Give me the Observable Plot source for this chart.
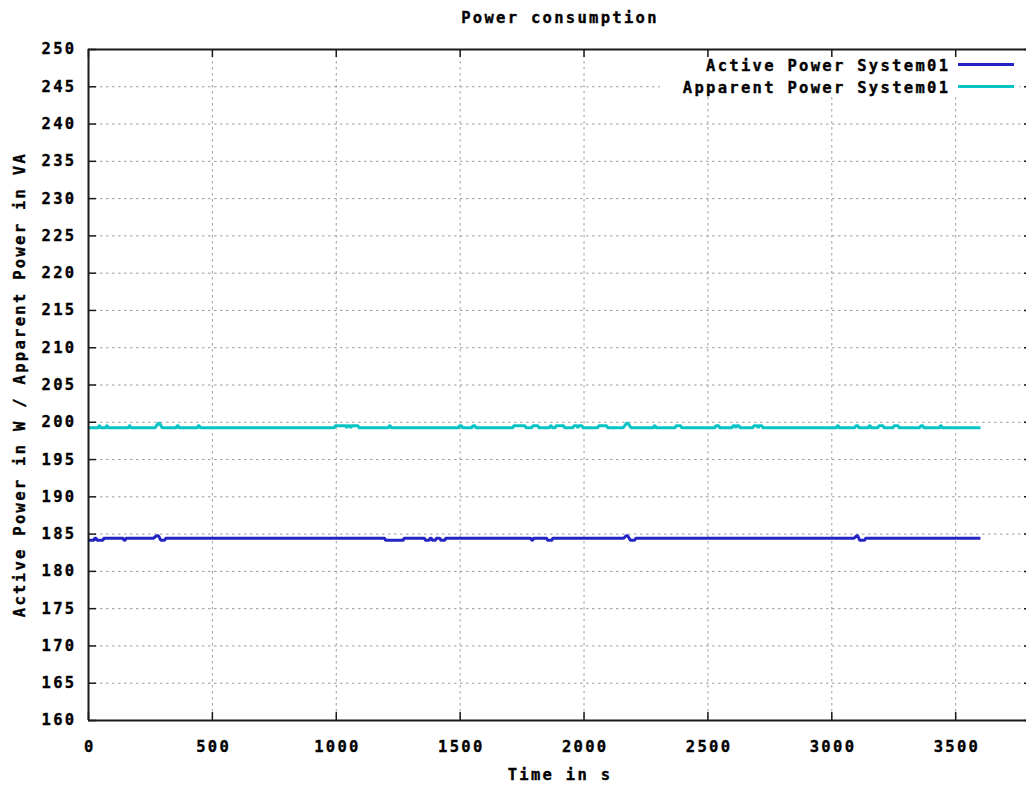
<!DOCTYPE html>
<html>
<head>
<meta charset="utf-8">
<script src="https://cdn.jsdelivr.net/npm/d3@7"></script>
<script src="https://cdn.jsdelivr.net/npm/@observablehq/plot@0.6"></script>
<style>
  html, body { margin: 0; padding: 0; background: #fff; overflow: hidden; }
  #chart svg text { stroke: #000; stroke-width: 0.35px; paint-order: stroke; }
</style>
</head>
<body>
<div id="chart"></div>
<script>
// ---- data ----
const titleText = "Power consumption";
const xLabel = "Time in s";
const yLabel = "Active Power in W / Apparent Power in VA";
const seriesNames = ["Active Power System01", "Apparent Power System01"];
const seriesColors = ["#2424c4", "#08c4c4"];
const xTicks = [0, 500, 1000, 1500, 2000, 2500, 3000, 3500];
const yTicks = [160, 165, 170, 175, 180, 185, 190, 195, 200, 205, 210, 215, 220, 225, 230, 235, 240, 245, 250];
const xDomain = [0, 3810];
const yDomain = [160, 250];

// [time s, power W]
const active = [
  [0,184.17],[22,184.17],[25,184.45],[31,184.45],[34,184.17],[58,184.17],[62,184.45],
  [140,184.45],[143,184.17],[148,184.17],[151,184.45],
  [262,184.45],[275,184.78],[282,184.78],[292,184.17],[307,184.17],[312,184.45],
  [1195,184.45],[1199,184.17],[1270,184.17],[1274,184.45],
  [1356,184.45],[1360,184.17],[1375,184.17],[1379,184.45],[1384,184.45],[1388,184.17],[1400,184.17],[1404,184.45],
  [1418,184.45],[1422,184.17],[1438,184.17],[1442,184.45],
  [1786,184.45],[1789,184.17],[1793,184.17],[1796,184.45],
  [1849,184.45],[1853,184.17],[1870,184.17],[1874,184.45],
  [2160,184.45],[2170,184.78],[2176,184.78],[2187,184.17],[2204,184.17],[2209,184.45],
  [3090,184.45],[3100,184.78],[3104,184.78],[3113,184.17],[3132,184.17],[3137,184.45],
  [3600,184.45]
];

// [time s, power VA]
const apparent = [
  [0,199.25],
  [40,199.25],[42,199.52],[46,199.52],[48,199.25],
  [70,199.25],[72,199.52],[76,199.52],[78,199.25],
  [162,199.25],[164,199.52],[168,199.52],[170,199.25],
  [268,199.25],[282,199.88],[286,199.88],[298,199.25],
  [355,199.25],[357,199.52],[363,199.52],[365,199.25],
  [440,199.25],[442,199.52],[448,199.52],[450,199.25],
  [992,199.25],[996,199.52],[1040,199.52],[1043,199.25],[1046,199.52],[1056,199.52],[1059,199.25],[1062,199.52],[1088,199.52],[1092,199.25],
  [1210,199.25],[1214,199.52],[1218,199.52],[1222,199.25],
  [1493,199.25],[1497,199.52],[1506,199.52],[1510,199.25],
  [1547,199.25],[1551,199.52],[1560,199.52],[1564,199.25],
  [1712,199.25],[1716,199.52],[1762,199.52],[1766,199.25],
  [1789,199.25],[1793,199.52],[1814,199.52],[1818,199.25],
  [1860,199.25],[1864,199.52],[1868,199.52],[1872,199.25],
  [1883,199.25],[1887,199.52],[1918,199.52],[1922,199.25],
  [1955,199.25],[1959,199.52],[1972,199.52],[1975,199.25],[1978,199.52],[1992,199.52],[1996,199.25],
  [2055,199.25],[2059,199.52],[2092,199.52],[2096,199.25],
  [2158,199.25],[2172,199.88],[2177,199.88],[2190,199.25],
  [2280,199.25],[2283,199.52],[2287,199.52],[2290,199.25],
  [2367,199.25],[2371,199.52],[2390,199.52],[2394,199.25],
  [2528,199.25],[2532,199.52],[2544,199.52],[2548,199.25],
  [2597,199.25],[2601,199.52],[2610,199.52],[2613,199.25],[2616,199.52],[2626,199.52],[2630,199.25],
  [2681,199.25],[2685,199.52],[2700,199.52],[2703,199.25],[2706,199.52],[2718,199.52],[2722,199.25],
  [3019,199.25],[3022,199.52],[3026,199.52],[3029,199.25],
  [3093,199.25],[3097,199.52],[3106,199.52],[3110,199.25],
  [3148,199.25],[3151,199.52],[3155,199.52],[3158,199.25],
  [3186,199.25],[3190,199.52],[3207,199.52],[3211,199.25],
  [3247,199.25],[3251,199.52],[3268,199.52],[3272,199.25],
  [3355,199.25],[3359,199.52],[3368,199.52],[3372,199.25],
  [3435,199.25],[3438,199.52],[3442,199.52],[3445,199.25],
  [3600,199.25]
];

// ---- layout ----
const W = 1026, H = 787;
const mL = 88, mR = -6, mT = 49, mB = 67;
const plotW = W - mL - mR, plotH = H - mT - mB;
const tickLen = 8;
const frameColor = "#1a1a1a";
const gridColor = "#9c9c9c";
const gridDash = "2.5,3.5";

function annotations(index, scales, values, dim) {
  const g = d3.create("svg:g");
  const left = dim.marginLeft, right = dim.width - dim.marginRight;
  const top = dim.marginTop, bottom = dim.height - dim.marginBottom;
  const cx = (left + right) / 2, cy = (top + bottom) / 2;
  // title
  g.append("text").attr("x", cx).attr("y", top - 26.5).attr("text-anchor", "middle").text(titleText);
  // x label
  g.append("text").attr("x", cx).attr("y", bottom + 60).attr("text-anchor", "middle").text(xLabel);
  // y label
  g.append("text").attr("transform", `translate(25,${cy}) rotate(-90)`).attr("text-anchor", "middle").text(yLabel);
  // legend (opaque key box hides the grid)
  const keyRight = right - 18, sampleLen = 56, textGap = 10;
  g.append("rect").attr("x", left + 572).attr("y", top + 8).attr("width", keyRight - left - 572 + 5)
    .attr("height", 39).attr("fill", "#fff");
  seriesNames.forEach((name, i) => {
    const ly = top + 15.5 + i * 22;
    g.append("line").attr("x1", keyRight - sampleLen).attr("x2", keyRight)
      .attr("y1", ly).attr("y2", ly).attr("stroke", seriesColors[i]).attr("stroke-width", 3);
    g.append("text").attr("x", keyRight - sampleLen - textGap + 2.3).attr("y", ly + 6)
      .attr("text-anchor", "end").text(name);
  });
  return g.node();
}

const chart = Plot.plot({
  width: W, height: H,
  marginLeft: mL, marginRight: mR, marginTop: mT, marginBottom: mB,
  x: { domain: xDomain },
  y: { domain: yDomain },
  style: {
    fontFamily: "'DejaVu Sans Mono', monospace",
    fontSize: "15.5px",
    fontWeight: "bold",
    letterSpacing: "2.3px",
    color: "#000",
    background: "#fff"
  },
  marks: [
    Plot.gridX(xTicks.filter(d => d > xDomain[0]), { stroke: gridColor, strokeOpacity: 1, strokeWidth: 1, strokeDasharray: gridDash }),
    Plot.gridY(yTicks.filter(d => d > yDomain[0] && d < yDomain[1]), { stroke: gridColor, strokeOpacity: 1, strokeWidth: 1, strokeDasharray: gridDash }),
    annotations,
    Plot.line(active, { x: d => d[0], y: d => d[1], stroke: seriesColors[0], strokeWidth: 3, strokeLinejoin: "miter", strokeLinecap: "butt" }),
    Plot.line(apparent, { x: d => d[0], y: d => d[1], stroke: seriesColors[1], strokeWidth: 3, strokeLinejoin: "miter", strokeLinecap: "butt" }),
    Plot.ruleX([xDomain[0]], { stroke: frameColor, strokeWidth: 2 }),
    Plot.ruleY(yDomain, { stroke: frameColor, strokeWidth: 2 }),
    Plot.tickX(xTicks, { x: d => d, insetTop: plotH - tickLen, stroke: frameColor, strokeWidth: 1.5 }),
    Plot.tickX(xTicks, { x: d => d, insetBottom: plotH - tickLen, stroke: frameColor, strokeWidth: 1.5 }),
    Plot.tickY(yTicks, { y: d => d, insetRight: plotW - tickLen, stroke: frameColor, strokeWidth: 1.5 }),
    Plot.tickY(yTicks, { y: d => d, insetLeft: plotW - tickLen, stroke: frameColor, strokeWidth: 1.5 }),
    Plot.axisX(xTicks, { anchor: "bottom", tickSize: 0, tickPadding: 20, label: null, dx: 1.2, tickFormat: d => String(d) }),
    Plot.axisY(yTicks, { anchor: "left", tickSize: 0, tickPadding: 12, label: null, tickFormat: d => String(d) })
  ]
});
document.getElementById("chart").appendChild(chart);
</script>
</body>
</html>
